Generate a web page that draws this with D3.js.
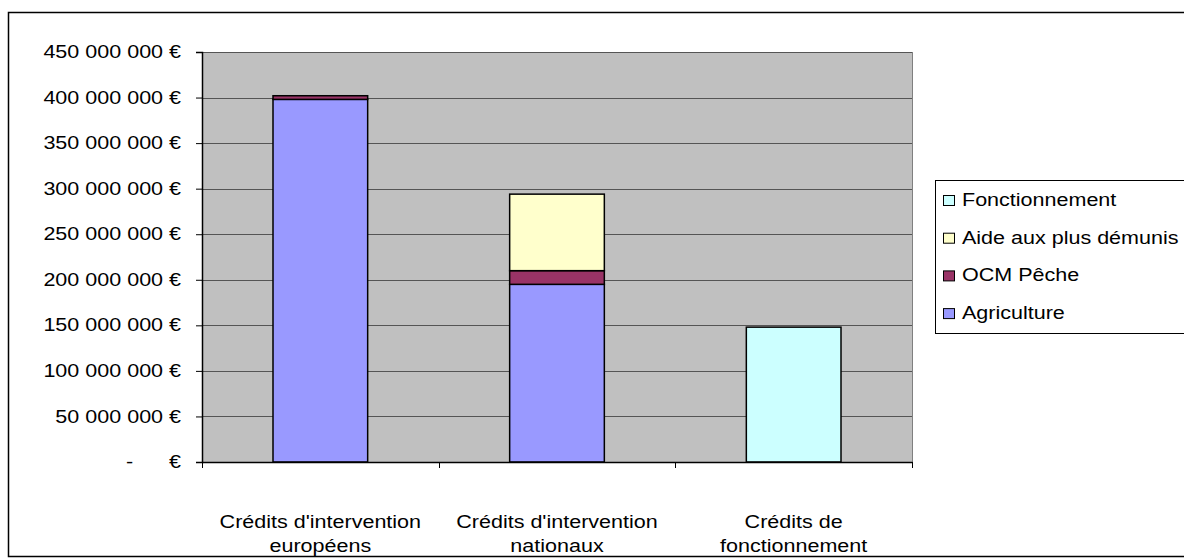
<!DOCTYPE html>
<html>
<head>
<meta charset="utf-8">
<script src="https://cdn.jsdelivr.net/npm/d3@7"></script>
<style>
  html, body { margin: 0; padding: 0; background: #fff; }
  svg { display: block; }
  text { font-family: Arial, "Liberation Sans", sans-serif; fill: #000; }
</style>
</head>
<body>
<svg id="chart" width="1184" height="560"></svg>
<script>
// Budget categories (x axis)
const categories = [
  ["Crédits d'intervention", "européens"],
  ["Crédits d'intervention", "nationaux"],
  ["Crédits de", "fonctionnement"]
];
const categoryKeys = ["europeens", "nationaux", "fonctionnement"];

// Stacked series, bottom to top
const seriesNames = ["Agriculture", "OCM Pêche", "Aide aux plus démunis", "Fonctionnement"];
const agriculture    = [398000000, 195000000, 0];
const ocmPeche       = [4000000, 15000000, 0];
const aideDemunis    = [0, 84000000, 0];
const fonctionnement = [0, 0, 148000000];
const seriesColors = ["#9999ff", "#993366", "#ffffcc", "#ccffff"];

// Y axis ticks
const yTicks = [0, 50000000, 100000000, 150000000, 200000000, 250000000,
                300000000, 350000000, 400000000, 450000000];
const yTickLabels = ["-      €", "50 000 000 €", "100 000 000 €", "150 000 000 €",
                     "200 000 000 €", "250 000 000 €", "300 000 000 €",
                     "350 000 000 €", "400 000 000 €", "450 000 000 €"];

const svg = d3.select("#chart");
const FONT = 17.5;   // font size
const SX = 1.23;     // horizontal text stretch of the chart

// Outer chart frame
svg.append("rect")
  .attr("x", 8.5).attr("y", 12.5)
  .attr("width", 1200).attr("height", 544)
  .attr("fill", "#fff").attr("stroke", "#000").attr("stroke-width", 1.5);

const plot = { left: 202, right: 912, top: 52, bottom: 462 };

const x = d3.scaleBand()
  .domain(categoryKeys)
  .range([plot.left, plot.right])
  .paddingInner(0.6)
  .paddingOuter(0.3);

const y = d3.scaleLinear()
  .domain([0, 450000000])
  .range([plot.bottom, plot.top]);

// Plot background
svg.append("rect")
  .attr("x", plot.left).attr("y", plot.top)
  .attr("width", plot.right - plot.left).attr("height", plot.bottom - plot.top)
  .attr("fill", "#c0c0c0");

// Horizontal gridlines
svg.append("g")
  .selectAll("line")
  .data(yTicks.slice(1))
  .join("line")
  .attr("x1", plot.left).attr("x2", plot.right)
  .attr("y1", d => Math.round(y(d)) + 0.5).attr("y2", d => Math.round(y(d)) + 0.5)
  .attr("stroke", "#555").attr("stroke-width", 1);

// Right border of plot area
svg.append("line")
  .attr("x1", plot.right + 0.5).attr("x2", plot.right + 0.5)
  .attr("y1", plot.top).attr("y2", plot.bottom)
  .attr("stroke", "#808080");

// Stacked bars
const table = categoryKeys.map((k, i) => ({
  key: k,
  "Agriculture": agriculture[i],
  "OCM Pêche": ocmPeche[i],
  "Aide aux plus démunis": aideDemunis[i],
  "Fonctionnement": fonctionnement[i]
}));
const stacked = d3.stack().keys(seriesNames)(table);
const color = d3.scaleOrdinal().domain(seriesNames).range(seriesColors);

svg.append("g")
  .selectAll("g")
  .data(stacked)
  .join("g")
  .attr("fill", d => color(d.key))
  .selectAll("rect")
  .data(d => d.filter(s => s[1] - s[0] > 0))
  .join("rect")
  .attr("x", d => x(d.data.key))
  .attr("width", x.bandwidth())
  .attr("y", d => y(d[1]))
  .attr("height", d => y(d[0]) - y(d[1]))
  .attr("stroke", "#000")
  .attr("stroke-width", 1.5);

// Y axis
const yAxis = d3.axisLeft(y)
  .tickValues(yTicks)
  .tickFormat((d, i) => yTickLabels[i])
  .tickSize(6);
const gy = svg.append("g")
  .attr("transform", `translate(${plot.left},0)`)
  .call(yAxis);
gy.select(".domain").attr("stroke", "#000").attr("stroke-width", 1.5);
gy.selectAll(".tick line").attr("stroke", "#000");
gy.selectAll(".tick text")
  .style("font-size", FONT + "px")
  .style("font-family", "Arial, 'Liberation Sans', sans-serif")
  .attr("fill", "#000")
  .attr("xml:space", "preserve")
  .attr("x", -21 / SX)
  .attr("transform", `scale(${SX},1)`);

// X axis
const xAxis = d3.axisBottom(x).tickSize(0).tickFormat("");
const gx = svg.append("g")
  .attr("transform", `translate(0,${plot.bottom})`)
  .call(xAxis);
gx.select(".domain").attr("stroke", "#000").attr("stroke-width", 1.5);

// Category separator ticks on x axis
const step = x.step();
const sepPositions = d3.range(categoryKeys.length + 1).map(i => plot.left + i * step);
gx.selectAll(".sep")
  .data(sepPositions)
  .join("line")
  .attr("class", "sep")
  .attr("x1", d => Math.round(d) + 0.5).attr("x2", d => Math.round(d) + 0.5)
  .attr("y1", 0).attr("y2", 6)
  .attr("stroke", "#000");

// Two-line category labels
const labels = svg.append("g");
categories.forEach((lines, i) => {
  const cx = x(categoryKeys[i]) + x.bandwidth() / 2;
  const t = labels.append("text")
    .attr("x", cx / SX).attr("y", 528)
    .attr("text-anchor", "middle")
    .attr("transform", `scale(${SX},1)`)
    .style("font-size", FONT + "px");
  lines.forEach((ln, j) => {
    t.append("tspan").attr("x", cx / SX).attr("dy", j === 0 ? 0 : 24).text(ln);
  });
});

// Legend (top entry is the top of the stack)
const legend = svg.append("g");
legend.append("rect")
  .attr("x", 935.5).attr("y", 180.5)
  .attr("width", 300).attr("height", 153)
  .attr("fill", "#fff").attr("stroke", "#000");
const legendOrder = seriesNames.slice().reverse();
legendOrder.forEach((name, i) => {
  const base = 206 + i * 37.7;
  legend.append("rect")
    .attr("x", 943.5).attr("y", base - 10.5)
    .attr("width", 11).attr("height", 10)
    .attr("fill", color(name)).attr("stroke", "#000");
  legend.append("text")
    .attr("x", 962 / SX).attr("y", base)
    .attr("transform", `scale(${SX},1)`)
    .style("font-size", FONT + "px")
    .text(name);
});
</script>
</body>
</html>
